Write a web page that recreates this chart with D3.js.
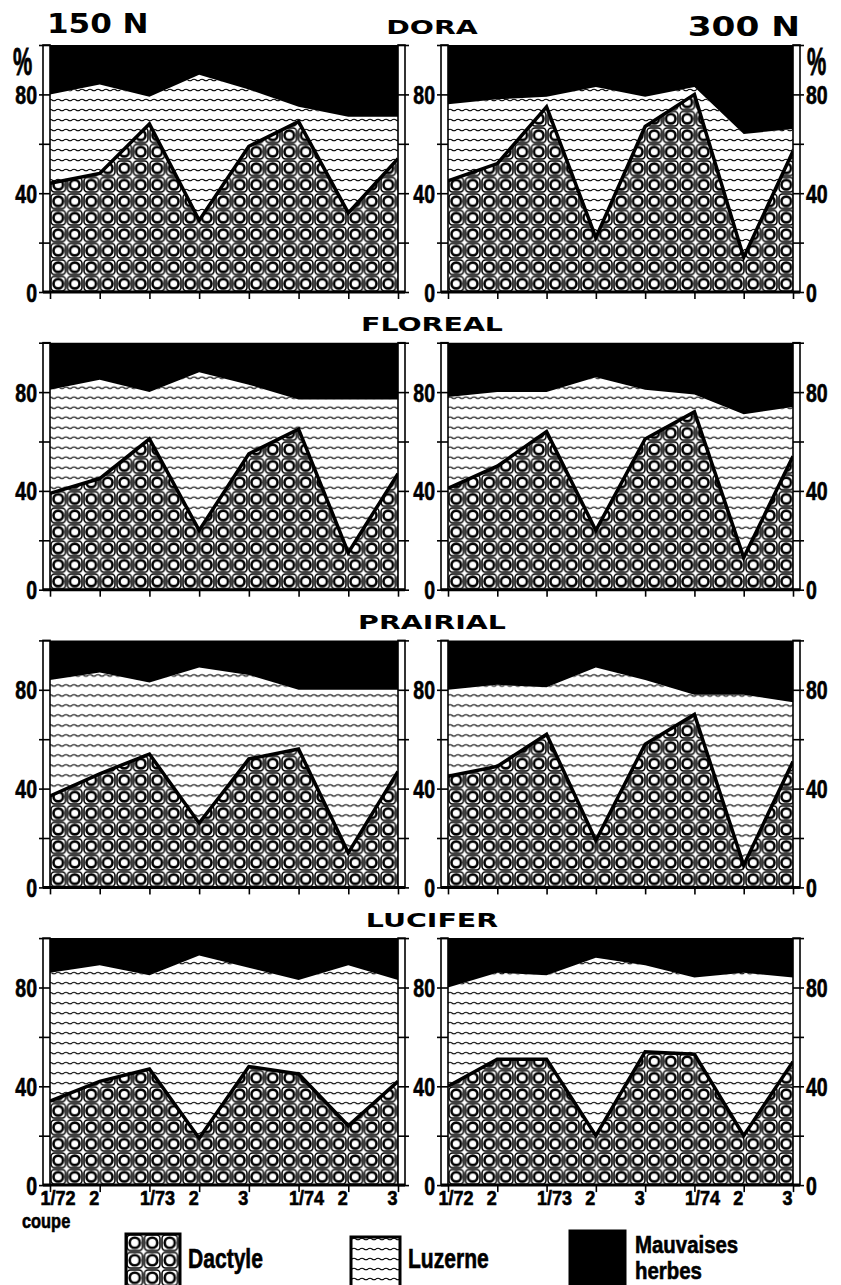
<!DOCTYPE html>
<html>
<head>
<meta charset="utf-8">
<script src="https://cdn.jsdelivr.net/npm/d3@7"></script>
<style>
  body { margin: 0; background: #fff; }
  svg { display: block; }
  .num { font-family: 'Liberation Sans', Arial, sans-serif; font-weight: bold; fill: #000; stroke: #000; stroke-width: 0.6; }
  .wide { font-family: 'DejaVu Sans', sans-serif; font-weight: bold; fill: #000; }
</style>
</head>
<body>
<svg id="chart" width="841" height="1285"></svg>
<script>
// cuts (coupes) over three years
const cuts = ['1/72', '2', '1/73', '2', '3', '1/74', '2', '3'];
const varieties = ['DORA', 'FLOREAL', 'PRAIRIAL', 'LUCIFER'];
const doses = ['150 N', '300 N'];
const series = ['Dactyle', 'Luzerne', 'Mauvaises herbes'];
const yTicks = [0, 20, 40, 60, 80, 100];
const yLabels = [0, 40, 80];

// % of each species (weeds = the rest up to 100)
const doraDactyle150 = [44, 48, 68, 29, 59, 69, 32, 54];
const doraLuzerne150 = [36, 36, 11, 59, 23, 6, 39, 17];
const doraDactyle300 = [45, 52, 75, 22, 67, 80, 14, 57];
const doraLuzerne300 = [31, 26, 4, 61, 12, 3, 50, 9];
const florealDactyle150 = [39, 45, 61, 24, 55, 65, 15, 47];
const florealLuzerne150 = [42, 40, 19, 64, 28, 12, 62, 30];
const florealDactyle300 = [41, 50, 64, 24, 61, 72, 13, 54];
const florealLuzerne300 = [37, 30, 16, 62, 20, 7, 58, 20];
const prairialDactyle150 = [37, 46, 54, 26, 52, 56, 14, 47];
const prairialLuzerne150 = [47, 41, 29, 63, 34, 24, 66, 33];
const prairialDactyle300 = [45, 49, 62, 19, 58, 70, 9, 51];
const prairialLuzerne300 = [35, 33, 19, 70, 26, 8, 69, 24];
const luciferDactyle150 = [34, 42, 47, 19, 48, 45, 24, 42];
const luciferLuzerne150 = [52, 47, 38, 74, 40, 38, 65, 41];
const luciferDactyle300 = [40, 51, 51, 20, 54, 53, 20, 50];
const luciferLuzerne300 = [40, 35, 34, 72, 35, 31, 66, 34];

const panels = [
  [[doraDactyle150, doraLuzerne150], [doraDactyle300, doraLuzerne300]],
  [[florealDactyle150, florealLuzerne150], [florealDactyle300, florealLuzerne300]],
  [[prairialDactyle150, prairialLuzerne150], [prairialDactyle300, prairialLuzerne300]],
  [[luciferDactyle150, luciferLuzerne150], [luciferDactyle300, luciferLuzerne300]]
];

// layout
const rowTop = i => 45 + i * 297.7;
const plotH = 247;
const colRange = [[50, 398], [448, 793]];
const barW = 7;
const cell = 16.5;
const narrow = 0.78;

const svg = d3.select('#chart');
const defs = svg.append('defs');

// dactyle: squares with a ring inside
function dactylePattern(id, ox, oy, size) {
  const p = defs.append('pattern')
    .attr('id', id)
    .attr('patternUnits', 'userSpaceOnUse')
    .attr('x', ox).attr('y', oy)
    .attr('width', size).attr('height', size);
  p.append('rect').attr('width', size).attr('height', size).attr('fill', '#fff');
  p.append('rect')
    .attr('x', 1).attr('y', 1)
    .attr('width', size - 2).attr('height', size - 2)
    .attr('rx', 3.5)
    .attr('fill', '#fff').attr('stroke', '#000').attr('stroke-width', 1.5);
  p.append('circle')
    .attr('cx', size / 2).attr('cy', size / 2).attr('r', size * 0.29)
    .attr('fill', '#fff').attr('stroke', '#000').attr('stroke-width', 2.6);
}

// luzerne: thin wavy horizontal lines
function luzernePattern(id, oy) {
  const p = defs.append('pattern')
    .attr('id', id)
    .attr('patternUnits', 'userSpaceOnUse')
    .attr('x', 0).attr('y', oy)
    .attr('width', 8).attr('height', 10);
  p.append('rect').attr('width', 8).attr('height', 10).attr('fill', '#fff');
  p.append('path')
    .attr('d', 'M0,5 Q2,3.5 4,5 T8,5')
    .attr('fill', 'none').attr('stroke', '#000').attr('stroke-width', 1.1);
}

// squeeze or stretch a text horizontally to get the lettering of the original
function stretch(sel, factor) {
  sel.each(function () {
    const w = this.getComputedTextLength();
    if (w > 0) d3.select(this).attr('textLength', w * factor).attr('lengthAdjust', 'spacingAndGlyphs');
  });
}

panels.forEach((row, r) => {
  const top = rowTop(r);
  const y = d3.scaleLinear().domain([0, 100]).range([top + plotH, top]);

  row.forEach(([dac, luz], c) => {
    const x = d3.scalePoint().domain(d3.range(cuts.length)).range(colRange[c]);
    const [x0, x1] = x.range();
    const g = svg.append('g');

    const dacId = `dac-${r}-${c}`;
    const luzId = `luz-${r}-${c}`;
    dactylePattern(dacId, x0, y(0), cell);
    luzernePattern(luzId, y(100));

    const rows = cuts.map((_, k) => ({
      'Dactyle': dac[k],
      'Luzerne': luz[k],
      'Mauvaises herbes': 100 - dac[k] - luz[k]
    }));
    const stacked = d3.stack().keys(series)(rows);
    const fills = { 'Dactyle': `url(#${dacId})`, 'Luzerne': `url(#${luzId})`, 'Mauvaises herbes': '#000' };

    const area = d3.area()
      .x((d, k) => x(k))
      .y0(d => y(d[0]))
      .y1(d => y(d[1]));

    g.selectAll('path.layer')
      .data(stacked)
      .join('path')
      .attr('class', 'layer')
      .attr('d', area)
      .attr('fill', d => fills[d.key]);

    // thick line on top of dactyle
    g.append('path')
      .datum(dac)
      .attr('d', d3.line().x((d, k) => x(k)).y(d => y(d)))
      .attr('fill', 'none')
      .attr('stroke', '#000')
      .attr('stroke-width', 3.5)
      .attr('stroke-linejoin', 'miter');

    // narrow axis bars on both sides
    g.selectAll('rect.bar')
      .data([x0 - barW, x1])
      .join('rect')
      .attr('class', 'bar')
      .attr('x', d => d)
      .attr('y', y(100))
      .attr('width', barW)
      .attr('height', plotH)
      .attr('fill', '#fff')
      .attr('stroke', '#000')
      .attr('stroke-width', 1.6);

    const fmt = d => yLabels.includes(d) ? d : '';
    const leftAxis = d3.axisLeft(y).tickValues(yTicks).tickSize(11).tickPadding(2)
      .tickFormat(fmt);
    const rightAxis = d3.axisRight(y).tickValues(yTicks).tickSize(11).tickPadding(2)
      .tickFormat(c === 1 ? fmt : () => '');

    [[leftAxis, x0], [rightAxis, x1]].forEach(([ax, pos]) => {
      g.append('g')
        .attr('transform', `translate(${pos},0)`)
        .call(ax)
        .call(a => a.select('.domain').remove())
        .call(a => a.selectAll('line').attr('stroke', '#000').attr('stroke-width', 1.6))
        .call(a => a.selectAll('text')
          .attr('class', 'num')
          .attr('font-size', 25)
          .attr('dy', '0.36em')
          .call(stretch, narrow));
    });

    // x axis
    const last = r === panels.length - 1;
    const xAxis = d3.axisBottom(x).tickSize(7).tickSizeOuter(0).tickPadding(-1)
      .tickFormat(k => last ? cuts[k] : '');
    g.append('g')
      .attr('transform', `translate(0,${y(0)})`)
      .call(xAxis)
      .call(a => a.select('.domain').remove())
      .call(a => a.selectAll('line').attr('stroke', '#000').attr('stroke-width', 1.6))
      .call(a => a.selectAll('text')
        .attr('class', 'num')
        .attr('font-size', 20)
        .attr('text-anchor', k => cuts[k].includes('/') ? 'start' : 'end')
        .attr('x', k => cuts[k].includes('/') ? -10 : -1)
        .call(stretch, 0.9));

    g.append('line')
      .attr('x1', x0 - barW).attr('x2', x1 + barW)
      .attr('y1', y(0)).attr('y2', y(0))
      .attr('stroke', '#000').attr('stroke-width', 3);
  });

  // variety name
  const t = svg.append('text')
    .attr('class', 'wide')
    .attr('font-size', 20)
    .attr('y', top - 11.5)
    .text(varieties[r]);
  stretch(t, 1.42);
  t.attr('x', 432 - t.attr('textLength') / 2);
});

// dose headers
const h1 = svg.append('text').attr('class', 'wide').attr('font-size', 27)
  .attr('x', 47).attr('y', 33).text(doses[0]);
stretch(h1, 1.15);
const h2 = svg.append('text').attr('class', 'wide').attr('font-size', 26)
  .attr('y', 36).text(doses[1]);
stretch(h2, 1.32);
h2.attr('x', 800 - h2.attr('textLength'));

// % signs
[[13, 75], [807, 75]].forEach(([px, py]) => {
  svg.append('text')
    .attr('class', 'num')
    .attr('font-size', 27)
    .attr('transform', `translate(${px},${py}) scale(0.8,1.45)`)
    .text('%');
});

svg.append('text').attr('class', 'num').attr('font-size', 21)
  .attr('x', 22).attr('y', 1228).text('coupe')
  .call(stretch, narrow);

// legend
const lg = svg.append('g');
dactylePattern('dac-legend', 126, 1234, 17.5);
luzernePattern('luz-legend', 1234);
const legendBoxes = [
  { key: 'Dactyle', x: 126, y: 1234, w: 54, h: 54, fill: 'url(#dac-legend)' },
  { key: 'Luzerne', x: 351, y: 1237, w: 49, h: 52, fill: 'url(#luz-legend)' },
  { key: 'Mauvaises herbes', x: 570, y: 1231, w: 55, h: 58, fill: '#000' }
];
lg.selectAll('rect')
  .data(legendBoxes)
  .join('rect')
  .attr('x', d => d.x).attr('y', d => d.y)
  .attr('width', d => d.w).attr('height', d => d.h)
  .attr('fill', d => d.fill)
  .attr('stroke', '#000').attr('stroke-width', 3);

lg.append('text').attr('class', 'num').attr('font-size', 27)
  .attr('x', 188).attr('y', 1268).text(series[0]).call(stretch, narrow);
lg.append('text').attr('class', 'num').attr('font-size', 27)
  .attr('x', 408).attr('y', 1268).text(series[1]).call(stretch, narrow);
series[2].split(' ').forEach((w, i) => {
  lg.append('text').attr('class', 'num').attr('font-size', 24)
    .attr('x', 635).attr('y', 1253 + i * 26).text(w).call(stretch, 0.85);
});
</script>
</body>
</html>
